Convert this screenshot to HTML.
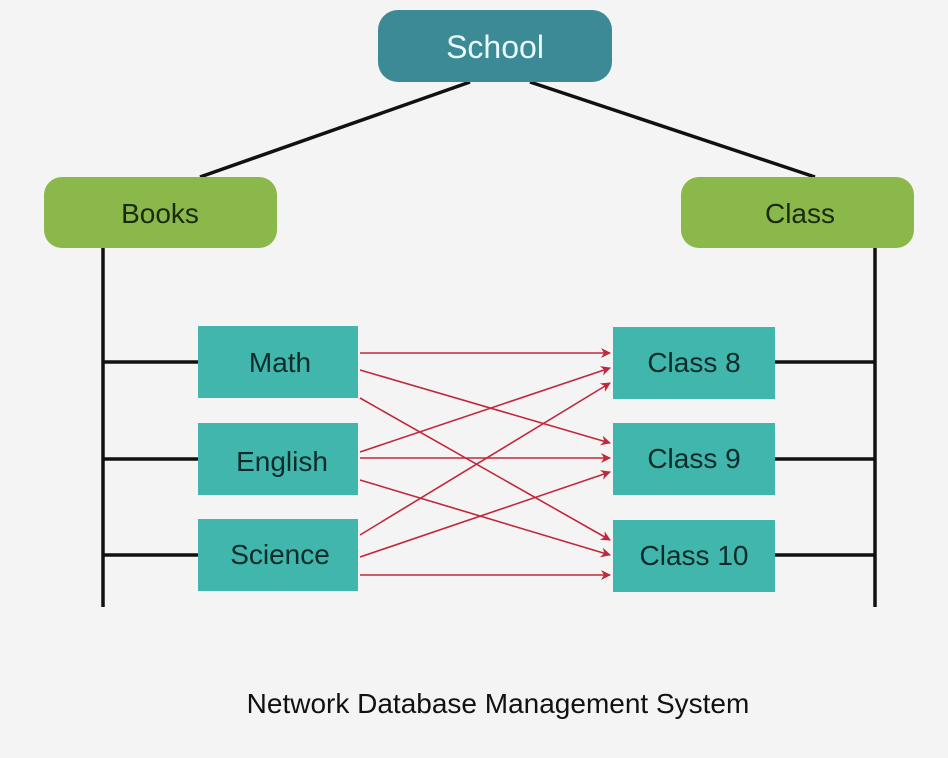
<!DOCTYPE html>
<html><head><style>
html,body{margin:0;padding:0;background:#f4f4f4;}
svg{display:block}
text{font-family:"Liberation Sans",sans-serif;}
</style></head><body>
<svg width="948" height="758" viewBox="0 0 948 758" xmlns="http://www.w3.org/2000/svg">
<defs>
<marker id="a" markerWidth="10" markerHeight="10" refX="9" refY="5" orient="auto" markerUnits="userSpaceOnUse">
<path d="M0,0 L10,5 L0,10 L3,5 z" fill="#c0283c"/>
</marker>
</defs>
<rect width="948" height="758" fill="#f4f4f4"/>
<g stroke="#111" stroke-width="3.5" fill="none">
<line x1="470" y1="82" x2="200" y2="177"/>
<line x1="530" y1="82" x2="815" y2="177"/>
<line x1="103" y1="248" x2="103" y2="607"/>
<line x1="875" y1="248" x2="875" y2="607"/>
<line x1="103" y1="362" x2="198" y2="362"/>
<line x1="103" y1="459" x2="198" y2="459"/>
<line x1="103" y1="555" x2="198" y2="555"/>
<line x1="775" y1="362" x2="875" y2="362"/>
<line x1="775" y1="459" x2="875" y2="459"/>
<line x1="775" y1="555" x2="875" y2="555"/>
</g>
<rect x="378" y="10" width="234" height="72" rx="20" fill="#3b8a96"/>
<text x="495" y="58" font-size="32" text-anchor="middle" fill="#e8fbff">School</text>
<rect x="44" y="177" width="233" height="71" rx="18" fill="#8ab84a"/>
<text x="160" y="223" font-size="28" text-anchor="middle" fill="#1a2a10">Books</text>
<rect x="681" y="177" width="233" height="71" rx="18" fill="#8ab84a"/>
<text x="800" y="223" font-size="28" text-anchor="middle" fill="#1a2a10">Class</text>
<g fill="#40b6ac">
<rect x="198" y="326" width="160" height="72"/>
<rect x="198" y="423" width="160" height="72"/>
<rect x="198" y="519" width="160" height="72"/>
<rect x="613" y="327" width="162" height="72"/>
<rect x="613" y="423" width="162" height="72"/>
<rect x="613" y="520" width="162" height="72"/>
</g>
<g font-size="28" text-anchor="middle" fill="#0d2b2b">
<text x="280" y="372">Math</text>
<text x="282" y="471">English</text>
<text x="280" y="564">Science</text>
<text x="694" y="372">Class 8</text>
<text x="694" y="468">Class 9</text>
<text x="694" y="565">Class 10</text>
</g>
<g stroke="#c0283c" stroke-width="1.6" marker-end="url(#a)">
<line x1="360" y1="353" x2="610" y2="353"/>
<line x1="360" y1="370" x2="610" y2="443"/>
<line x1="360" y1="398" x2="610" y2="540"/>
<line x1="360" y1="452" x2="610" y2="368"/>
<line x1="360" y1="458" x2="610" y2="458"/>
<line x1="360" y1="480" x2="610" y2="555"/>
<line x1="360" y1="535" x2="610" y2="383"/>
<line x1="360" y1="557" x2="610" y2="472"/>
<line x1="360" y1="575" x2="610" y2="575"/>
</g>
<text x="498" y="713" font-size="28" text-anchor="middle" fill="#111">Network Database Management System</text>
</svg>
</body></html>
